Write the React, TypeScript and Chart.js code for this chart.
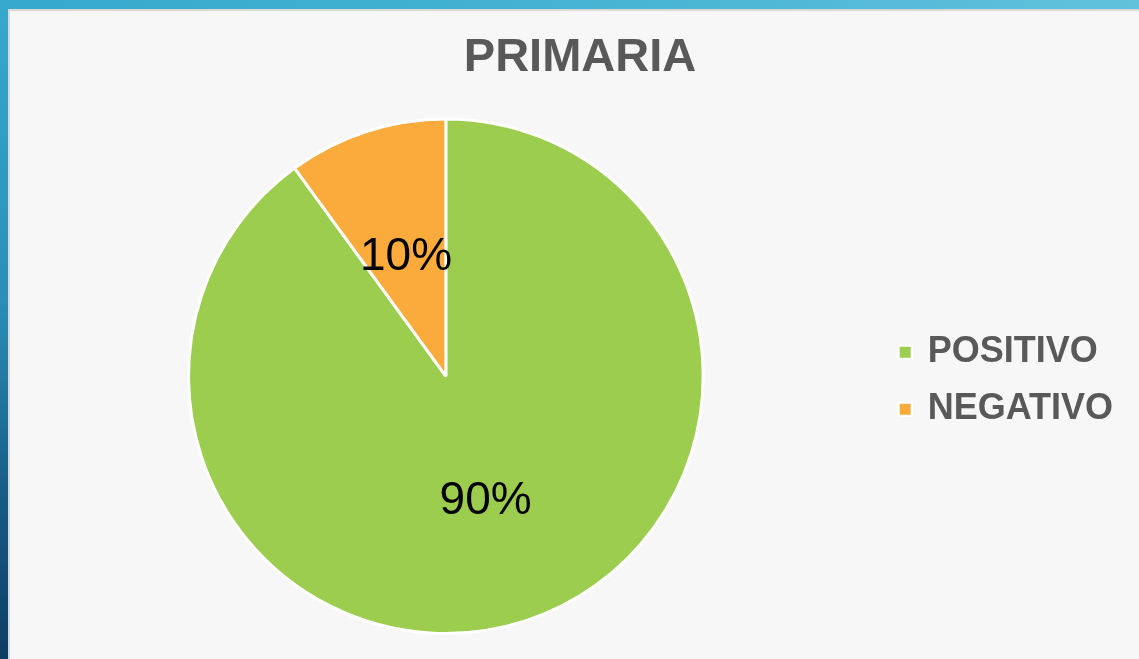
import React, { useEffect, useRef } from "react";
import { Chart, registerables } from "chart.js";

Chart.register(...registerables);

const categories = ["POSITIVO", "NEGATIVO"];
const values = [90, 10];
const percentLabels = ["90%", "10%"];
const sliceColors = ["#9dcd4e", "#fbab3b"];
const titleText = "PRIMARIA";

const FONT = "'Liberation Sans', Arial, Helvetica, sans-serif";

// legend marker: small square drawn at the right side of a wider transparent image
function makeMarker(color: string): HTMLCanvasElement {
  const c = document.createElement("canvas");
  c.width = 40;
  c.height = 16;
  const g = c.getContext("2d")!;
  g.fillStyle = "#ffffff";
  g.fillRect(25, 1, 15, 15);
  g.fillStyle = color;
  g.fillRect(27, 3, 11, 11);
  return c;
}

const dataLabelPlugin = {
  id: "dataLabelPlugin",
  afterDatasetsDraw(chart: any) {
    const ctx = chart.ctx;
    const meta = chart.getDatasetMeta(0);
    ctx.save();
    ctx.fillStyle = "#000000";
    ctx.font = `46px ${FONT}`;
    ctx.textAlign = "center";
    ctx.textBaseline = "middle";
    meta.data.forEach((arc: any, i: number) => {
      const p = arc.tooltipPosition();
      ctx.fillText(percentLabels[i], p.x, p.y + 3);
    });
    ctx.restore();
  },
};

export default function App() {
  const ref = useRef<HTMLCanvasElement | null>(null);

  useEffect(() => {
    if (!ref.current) return;
    const markers = sliceColors.map(makeMarker);
    const chart = new Chart(ref.current, {
      type: "pie",
      data: {
        labels: categories,
        datasets: [
          {
            data: values,
            backgroundColor: sliceColors,
            borderColor: "#ffffff",
            borderWidth: 3,
          },
        ],
      },
      options: {
        animation: false,
        responsive: false,
        maintainAspectRatio: false,
        layout: { padding: { left: 37, right: 16, top: 0, bottom: 24 } },
        plugins: {
          tooltip: { enabled: false },
          title: {
            display: true,
            text: titleText,
            color: "#595959",
            font: { family: FONT, size: 47, weight: "bold" },
            padding: { top: 30, bottom: 31 },
          },
          legend: {
            display: true,
            position: "right",
            fullSize: false,
            title: {
              display: true,
              text: "",
              font: { family: FONT, size: 5 },
              padding: 1,
            },
            labels: {
              usePointStyle: true,
              pointStyleWidth: 34,
              boxHeight: 12,
              padding: 21,
              color: "#595959",
              font: { family: FONT, size: 36, weight: "bold" },
              generateLabels: (ch: any) =>
                ch.data.labels.map((label: string, i: number) => ({
                  text: label,
                  fillStyle: sliceColors[i],
                  strokeStyle: "#ffffff",
                  lineWidth: 0,
                  fontColor: "#595959",
                  pointStyle: markers[i],
                  hidden: false,
                  index: i,
                })),
            },
          },
        },
      },
      plugins: [dataLabelPlugin],
    });
    return () => chart.destroy();
  }, []);

  return (
    <div
      style={{
        position: "fixed",
        left: 0,
        top: 0,
        width: 1139,
        height: 659,
        overflow: "hidden",
        background:
          "linear-gradient(180deg, #36a9cc 0%, #2b8fb8 45%, #175c86 75%, #0e3c63 100%)",
      }}
    >
      <div
        style={{
          position: "absolute",
          left: 0,
          top: 0,
          width: 1139,
          height: 9,
          background: "linear-gradient(90deg, #36a9cc 0%, #45b3d3 50%, #62c2dc 100%)",
        }}
      />
      <div
        style={{
          position: "absolute",
          left: 8,
          top: 9,
          width: 1139,
          height: 659,
          boxSizing: "border-box",
          border: "2px solid #d9d9d9",
          background: "#f7f7f7",
        }}
      />
      <canvas
        ref={ref}
        width={1139}
        height={659}
        style={{ position: "absolute", left: 0, top: 0, width: 1139, height: 659 }}
      />
    </div>
  );
}
